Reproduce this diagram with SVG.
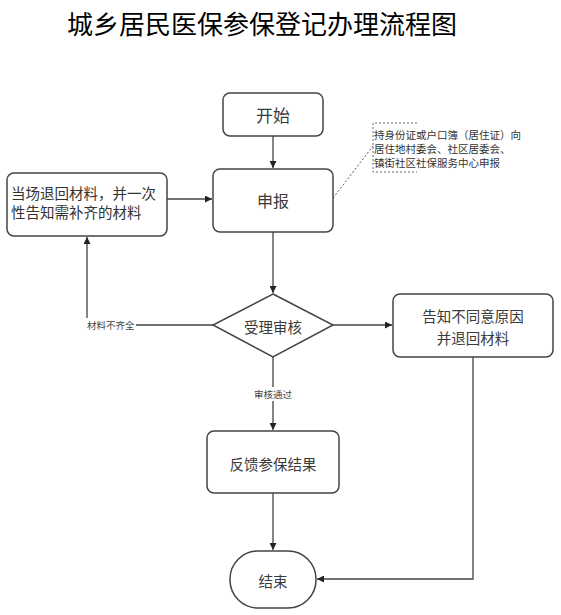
<svg xmlns="http://www.w3.org/2000/svg" width="561" height="615" viewBox="0 0 561 615">
<style>
.t{font-family:"Noto Sans CJK SC","Liberation Sans",sans-serif;fill:#3a3a3a;text-anchor:middle;dominant-baseline:central}
.box{fill:#fff;stroke:#444;stroke-width:1.5}
.ln{fill:none;stroke:#444;stroke-width:1.3}
.lbl{font-family:"Noto Sans CJK SC","Liberation Sans",sans-serif;fill:#444;font-size:9.5px;dominant-baseline:central}
</style>
<defs>
<marker id="ah" viewBox="0 0 10 10" refX="10" refY="5" markerWidth="7" markerHeight="7" markerUnits="userSpaceOnUse" orient="auto">
<path d="M0,0 L10,5 L0,10 z" fill="#222"/>
</marker>
</defs>
<rect width="561" height="615" fill="#fff"/>
<text x="262" y="22" font-family="'Noto Sans CJK SC','Liberation Sans',sans-serif" font-size="26" text-anchor="middle" dominant-baseline="central" fill="#000">城乡居民医保参保登记办理流程图</text>

<g id="connectors">
<line class="ln" x1="273" y1="136" x2="273" y2="168" marker-end="url(#ah)"/>
<line class="ln" x1="167" y1="199" x2="212" y2="199" marker-end="url(#ah)"/>
<line class="ln" x1="273" y1="232" x2="273" y2="293" marker-end="url(#ah)"/>
<polyline class="ln" points="213,325 87,325 87,237" marker-end="url(#ah)"/>
<line class="ln" x1="333" y1="325" x2="392" y2="325" marker-end="url(#ah)"/>
<line class="ln" x1="273" y1="357" x2="273" y2="430" marker-end="url(#ah)"/>
<line class="ln" x1="273" y1="493" x2="273" y2="550" marker-end="url(#ah)"/>
<polyline class="ln" points="473,357 473,579 317,579" marker-end="url(#ah)"/>
<line x1="333" y1="198" x2="373" y2="146" stroke="#555" stroke-width="1" stroke-dasharray="2,2"/>
<rect x="78" y="318" width="58" height="14" fill="#fff"/>
<text class="lbl" x="87" y="325">材料不齐全</text>
<rect x="252" y="387" width="42" height="14" fill="#fff"/>
<text class="lbl" x="254" y="394">审核通过</text>
</g>

<g id="start">
<rect class="box" x="223" y="93" width="100" height="43" rx="7"/>
<text class="t" x="273" y="114" font-size="17">开始</text>
</g>
<g id="apply">
<rect class="box" x="213" y="169" width="120" height="63" rx="7"/>
<text class="t" x="273" y="200" font-size="16">申报</text>
</g>
<g id="note">
<path d="M417,123 H373 V172 H417" fill="none" stroke="#666" stroke-width="1" stroke-dasharray="2,2"/>
<text font-family="'Noto Sans CJK SC','Liberation Sans',sans-serif" font-size="10.5" fill="#333">
<tspan x="374" y="139">持身份证或户口簿（居住证）向</tspan>
<tspan x="374" y="153">居住地村委会、社区居委会、</tspan>
<tspan x="374" y="167">镇街社区社保服务中心申报</tspan>
</text>
</g>
<g id="returnMaterials">
<rect class="box" x="7" y="173" width="160" height="63" rx="7"/>
<text font-family="'Noto Sans CJK SC','Liberation Sans',sans-serif" font-size="14.5" fill="#333" dominant-baseline="central">
<tspan x="11" y="192">当场退回材料，并一次</tspan>
<tspan x="11" y="211">性告知需补齐的材料</tspan>
</text>
</g>
<g id="review">
<polygon class="box" points="273,294 333,325 273,357 213,325"/>
<text class="t" x="273" y="326" font-size="14.5">受理审核</text>
</g>
<g id="reject">
<rect class="box" x="393" y="294" width="160" height="63" rx="7"/>
<text class="t" x="473" y="315" font-size="14.5">告知不同意原因</text>
<text class="t" x="473" y="337" font-size="14.5">并退回材料</text>
</g>
<g id="feedback">
<rect class="box" x="207" y="431" width="132" height="62" rx="7"/>
<text class="t" x="273" y="463" font-size="14.5">反馈参保结果</text>
</g>
<g id="end">
<rect class="box" x="230" y="551" width="86" height="57" rx="28"/>
<text class="t" x="273" y="580" font-size="14.5">结束</text>
</g>
</svg>
